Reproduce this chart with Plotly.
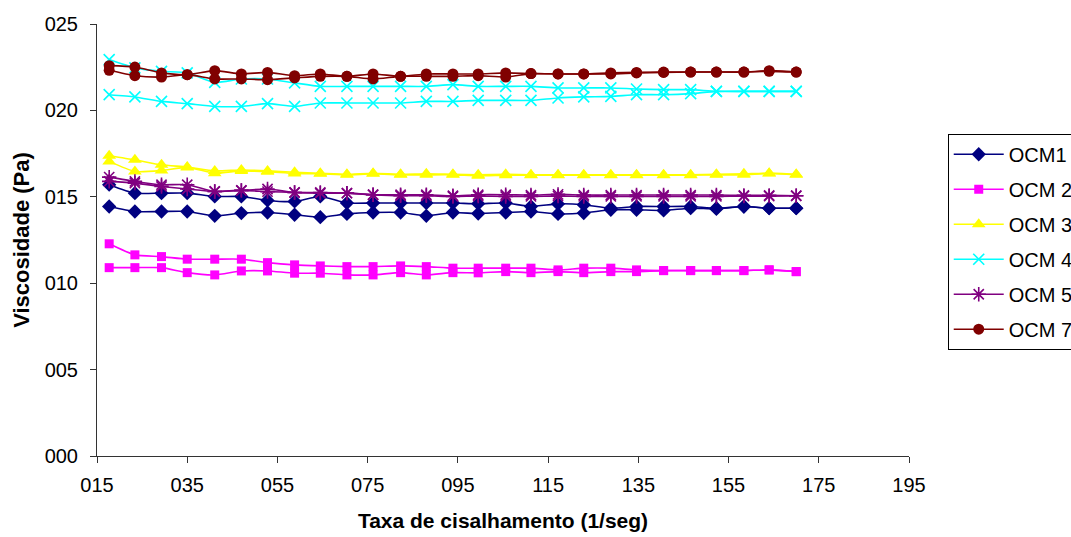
import plotly.graph_objects as go

# Shear rate (1/seg)
shear_rate = [17.7, 23.4, 29.3, 35.0, 41.1, 47.0, 52.8, 58.8, 64.5, 70.4, 76.2, 82.3, 88.0, 93.9,
              99.5, 105.6, 111.2, 117.2, 122.9, 128.9, 134.6, 140.6, 146.6, 152.3, 158.4, 164.0, 170.0]

series_names = ["OCM1", "OCM 2", "OCM 3", "OCM 4", "OCM 5", "OCM 7"]

ocm1_up = [15.70, 15.21, 15.21, 15.21, 15.02, 15.02, 14.79, 14.73, 15.02, 14.64, 14.64, 14.64, 14.64, 14.64,
           14.60, 14.64, 14.44, 14.59, 14.54, 14.34, 14.44, 14.44, 14.44, 14.34, 14.44, 14.34, 14.34]
ocm1_down = [14.44, 14.15, 14.15, 14.15, 13.90, 14.06, 14.09, 13.96, 13.82, 14.01, 14.09, 14.09, 13.90, 14.09,
             14.03, 14.09, 14.15, 14.01, 14.06, 14.25, 14.25, 14.21, 14.34, 14.30, 14.44, 14.34, 14.34]

ocm2_up = [12.28, 11.64, 11.54, 11.39, 11.39, 11.39, 11.19, 11.06, 11.00, 10.96, 10.96, 11.00, 10.96, 10.87,
           10.87, 10.87, 10.87, 10.77, 10.87, 10.87, 10.77, 10.73, 10.73, 10.73, 10.73, 10.77, 10.67]
ocm2_down = [10.90, 10.90, 10.90, 10.61, 10.48, 10.71, 10.71, 10.58, 10.58, 10.48, 10.48, 10.61, 10.48, 10.61,
             10.60, 10.67, 10.61, 10.67, 10.61, 10.67, 10.67, 10.73, 10.73, 10.73, 10.73, 10.77, 10.67]

ocm3_up = [17.38, 17.14, 16.85, 16.72, 16.50, 16.55, 16.50, 16.42, 16.36, 16.30, 16.36, 16.30, 16.33, 16.30,
           16.28, 16.30, 16.28, 16.28, 16.28, 16.28, 16.28, 16.28, 16.28, 16.30, 16.33, 16.37, 16.30]
ocm3_down = [17.05, 16.47, 16.52, 16.70, 16.37, 16.50, 16.45, 16.35, 16.33, 16.27, 16.33, 16.27, 16.27, 16.27,
             16.22, 16.25, 16.25, 16.25, 16.25, 16.25, 16.25, 16.25, 16.25, 16.27, 16.27, 16.35, 16.27]

ocm4_up = [22.94, 22.46, 22.26, 22.17, 21.62, 21.82, 21.82, 21.59, 21.39, 21.39, 21.39, 21.39, 21.39, 21.49,
           21.39, 21.39, 21.39, 21.30, 21.30, 21.30, 21.24, 21.20, 21.20, 21.10, 21.10, 21.10, 21.10]
ocm4_down = [20.91, 20.78, 20.52, 20.39, 20.23, 20.23, 20.39, 20.23, 20.43, 20.43, 20.43, 20.43, 20.52, 20.52,
             20.58, 20.58, 20.58, 20.72, 20.78, 20.81, 20.91, 20.91, 20.97, 21.10, 21.10, 21.10, 21.10]

ocm5_up = [16.14, 15.89, 15.70, 15.70, 15.31, 15.37, 15.45, 15.25, 15.25, 15.21, 15.12, 15.12, 15.12, 15.06,
           15.12, 15.12, 15.10, 15.14, 15.10, 15.10, 15.10, 15.10, 15.10, 15.10, 15.08, 15.08, 15.06]
ocm5_down = [15.89, 15.79, 15.60, 15.45, 15.31, 15.37, 15.30, 15.25, 15.21, 15.21, 15.12, 15.06, 15.06, 15.02,
             15.04, 15.02, 15.02, 15.04, 15.02, 15.02, 15.02, 15.02, 15.02, 15.02, 15.04, 15.04, 15.06]

ocm7_up = [22.59, 22.51, 22.17, 22.07, 22.30, 22.11, 22.20, 22.01, 22.11, 21.97, 22.11, 21.97, 22.11, 22.11,
           22.11, 22.17, 22.13, 22.11, 22.11, 22.17, 22.20, 22.22, 22.22, 22.22, 22.22, 22.30, 22.22]
ocm7_down = [22.32, 22.01, 21.93, 22.07, 21.82, 21.82, 21.78, 21.88, 21.97, 21.97, 21.82, 21.97, 21.97, 21.97,
             22.01, 21.93, 22.13, 22.11, 22.11, 22.11, 22.17, 22.20, 22.22, 22.22, 22.22, 22.26, 22.22]

x_tickvals = [15, 35, 55, 75, 95, 115, 135, 155, 175, 195]
x_ticktext = ["015", "035", "055", "075", "095", "115", "135", "155", "175", "195"]
y_tickvals = [0, 5, 10, 15, 20, 25]
y_ticktext = ["000", "005", "010", "015", "020", "025"]

styles = [
    dict(color="#000080", symbol="diamond", size=11),
    dict(color="#FF00FF", symbol="square", size=9),
    dict(color="#FFFF00", symbol="triangle-up", size=12),
    dict(color="#00FFFF", symbol="x-thin-open", size=11),
    dict(color="#800080", symbol="asterisk-open", size=12),
    dict(color="#800000", symbol="circle", size=11),
]

data = [
    (ocm1_up, ocm1_down),
    (ocm2_up, ocm2_down),
    (ocm3_up, ocm3_down),
    (ocm4_up, ocm4_down),
    (ocm5_up, ocm5_down),
    (ocm7_up, ocm7_down),
]

fig = go.Figure()
for name, st, (up, down) in zip(series_names, styles, data):
    open_sym = st["symbol"].endswith("open")
    marker = dict(symbol=st["symbol"], size=st["size"], color=st["color"],
                  line=dict(color=st["color"], width=1.6 if open_sym else 0))
    for k, ys in enumerate((up, down)):
        fig.add_trace(go.Scatter(
            x=shear_rate, y=ys, mode="lines+markers", name=name,
            legendgroup=name, showlegend=(k == 0),
            line=dict(color=st["color"], width=1.6, shape="spline", smoothing=0.6),
            marker=marker,
        ))

font_family = "Liberation Sans, Arial, sans-serif"
fig.update_layout(
    width=1071, height=537,
    margin=dict(l=97, r=162, t=24, b=81, autoexpand=False),
    paper_bgcolor="white", plot_bgcolor="white",
    font=dict(family=font_family, size=20, color="black"),
    showlegend=True,
    legend=dict(x=1.0477, y=0.746, xanchor="left", yanchor="top",
                bordercolor="black", borderwidth=1, bgcolor="white",
                font=dict(size=20), tracegroupgap=6, itemwidth=50,
                traceorder="grouped"),
    xaxis=dict(range=[15, 195], tickvals=x_tickvals, ticktext=x_ticktext,
               showgrid=False, zeroline=False, showline=True, linecolor="#333333", linewidth=1,
               ticks="outside", ticklen=6, tickcolor="#333333", ticklabelstandoff=5,
               title=dict(text="<b>Taxa de cisalhamento (1/seg)</b>", font=dict(size=21), standoff=18)),
    yaxis=dict(range=[0, 25], tickvals=y_tickvals, ticktext=y_ticktext,
               showgrid=False, zeroline=False, showline=True, linecolor="#333333", linewidth=1,
               ticks="outside", ticklen=6, tickcolor="#333333", ticklabelstandoff=8,
               title=dict(text="<b>Viscosidade (Pa)</b>", font=dict(size=22), standoff=8)),
)

fig.write_html("out.html")
